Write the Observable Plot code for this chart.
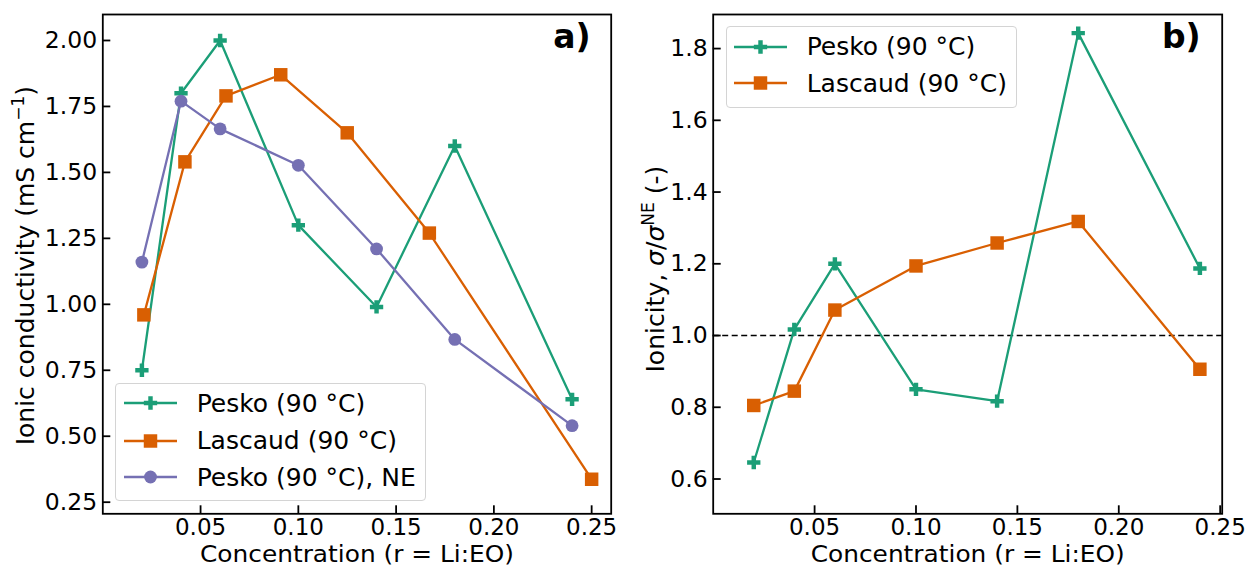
<!DOCTYPE html>
<html><head><meta charset="utf-8">
<script src="https://cdn.jsdelivr.net/npm/d3@7"></script>
<script src="https://cdn.jsdelivr.net/npm/@observablehq/plot@0.6"></script>
<style>
body{margin:0;background:#fff;font-family:"DejaVu Sans",sans-serif;}
#wrap{position:relative;width:1249px;height:567px;overflow:hidden;background:#fff}
.panel{position:absolute;top:0}
.legend{position:absolute;background:rgba(255,255,255,0.8);border:1px solid #d4d4d4;border-radius:4px;box-sizing:border-box}
.row{position:absolute;display:flex;align-items:center;height:34px;font-size:25px;color:#000;white-space:nowrap;font-family:"DejaVu Sans",sans-serif}
.row svg{display:block}
</style></head><body>
<div id="wrap"></div>
<script>
// ---------- data ----------
const peskoConc = [0.02, 0.04, 0.06, 0.10, 0.14, 0.18, 0.24];
const peskoSigma = [0.75, 1.80, 2.00, 1.30, 0.99, 1.60, 0.64];
const lascaudConc = [0.021, 0.042, 0.063, 0.091, 0.125, 0.167, 0.25];
const lascaudSigma = [0.96, 1.54, 1.79, 1.87, 1.65, 1.27, 0.337];
const peskoNEConc = [0.02, 0.04, 0.06, 0.10, 0.14, 0.18, 0.24];
const peskoNESigma = [1.16, 1.77, 1.665, 1.527, 1.21, 0.867, 0.54];
const ionicityConc = [0.02, 0.04, 0.06, 0.10, 0.14, 0.18, 0.24];
const peskoIonicity = [0.646, 1.017, 1.200, 0.850, 0.817, 1.843, 1.187];
const lascaudIonicity = [0.805, 0.845, 1.071, 1.194, 1.258, 1.318, 0.906];
const seriesNames = ["Pesko (90 °C)", "Lascaud (90 °C)", "Pesko (90 °C), NE"];
const seriesColors = ["#1b9e77", "#d95f02", "#7570b3"];
const seriesSymbols = ["cross", "square", "circle"];
const seriesR = [5.6, 7.6, 6.4];
const xTicks = [0.05, 0.10, 0.15, 0.20, 0.25];
const yTicksA = [0.25, 0.50, 0.75, 1.00, 1.25, 1.50, 1.75, 2.00];
const yTicksB = [0.6, 0.8, 1.0, 1.2, 1.4, 1.6, 1.8];
const referenceLevel = [1.0];
const xLabel = "Concentration (r = Li:EO)";

const tableA = [
  ...peskoConc.map((x, i) => ({x, y: peskoSigma[i], s: 0})),
  ...lascaudConc.map((x, i) => ({x, y: lascaudSigma[i], s: 1})),
  ...peskoNEConc.map((x, i) => ({x, y: peskoNESigma[i], s: 2}))
];
const tableB = [
  ...ionicityConc.map((x, i) => ({x, y: peskoIonicity[i], s: 0})),
  ...ionicityConc.map((x, i) => ({x, y: lascaudIonicity[i], s: 1}))
];

function seriesMarks(table, count) {
  const marks = [];
  for (let s = 0; s < count; s++) {
    const d = table.filter(r => r.s === s);
    marks.push(Plot.line(d, {x: "x", y: "y", stroke: seriesColors[s], strokeWidth: 2.3}));
    marks.push(Plot.dot(d, {x: "x", y: "y", fill: seriesColors[s], symbol: () => seriesSymbols[s], r: seriesR[s], stroke: "none"}));
  }
  return marks;
}

function axes(yTicks, yFmt) {
  return [
    Plot.axisX({ticks: xTicks, tickFormat: d3.format(".2f"), tickSize: -8, tickPadding: 13.2, strokeWidth: 1.8, fontSize: 23, label: null}),
    Plot.axisY({ticks: yTicks, tickFormat: d3.format(yFmt), tickSize: -8, tickPadding: 13.6, strokeWidth: 1.8, fontSize: 23.5, label: null})
  ];
}

const common = {height: 567, marginTop: 14, marginBottom: 53.7,
  style: {fontFamily: "DejaVu Sans", fontSize: "23px", color: "#000", background: "transparent", overflow: "visible"}};

const plotA = Plot.plot({
  ...common, width: 624, marginLeft: 102.3, marginRight: 13.3,
  x: {domain: [0, 0.26]}, y: {domain: [0.206, 2.0985]},
  marks: [
    ...axes(yTicksA, ".2f"),
    ...seriesMarks(tableA, 3),
    Plot.frame({stroke: "#000", strokeWidth: 1.8}),
    Plot.text([xLabel], {text: d => d, frameAnchor: "bottom", dy: 48.3, lineAnchor: "bottom", fontSize: 23}),
    Plot.text(["YLABEL_A"], {text: d => d, frameAnchor: "left", rotate: -90, dx: -69.3, dy: 1.5, lineAnchor: "bottom", textAnchor: "middle", fontSize: 25}),
    Plot.text(["a)"], {text: d => d, frameAnchor: "top-right", dx: -20.5, dy: 33.5, lineAnchor: "bottom", textAnchor: "end", fontSize: 33, fontWeight: "bold"})
  ]
});

const plotB = Plot.plot({
  ...common, width: 625, marginLeft: 88.7, marginRight: 27.3,
  x: {domain: [0, 0.251]}, y: {domain: [0.503, 1.895]},
  marks: [
    ...axes(yTicksB, ".1f"),
    Plot.ruleY(referenceLevel, {stroke: "#000", strokeWidth: 1.5, strokeDasharray: "6,3.5"}),
    ...seriesMarks(tableB, 2),
    Plot.frame({stroke: "#000", strokeWidth: 1.8}),
    Plot.text([xLabel], {text: d => d, frameAnchor: "bottom", dy: 48.3, lineAnchor: "bottom", fontSize: 23}),
    Plot.text(["YLABEL_B"], {text: d => d, frameAnchor: "left", rotate: -90, dx: -49.7, dy: 5, lineAnchor: "bottom", textAnchor: "middle", fontSize: 25}),
    Plot.text(["b)"], {text: d => d, frameAnchor: "top-right", dx: -21.5, dy: 33.5, lineAnchor: "bottom", textAnchor: "end", fontSize: 33, fontWeight: "bold"})
  ]
});

const NS = "http://www.w3.org/2000/svg";
function richLabel(svg, key, parts) {
  svg.querySelectorAll("text").forEach(t => {
    if (t.textContent === key) {
      t.textContent = "";
      for (const p of parts) {
        const ts = document.createElementNS(NS, "tspan");
        ts.textContent = p.t;
        if (p.italic) ts.setAttribute("font-style", "italic");
        if (p.size) ts.setAttribute("font-size", p.size);
        if (p.dy) ts.setAttribute("dy", p.dy);
        t.appendChild(ts);
      }
    }
  });
}
function widen(svg, key, len) {
  svg.querySelectorAll("text").forEach(t => {
    if (t.textContent === key) { t.setAttribute("textLength", len); t.setAttribute("lengthAdjust", "spacingAndGlyphs"); }
  });
}
richLabel(plotA, "YLABEL_A", [
  {t: "Ionic conductivity (mS cm"},
  {t: "−1", size: 17, dy: -10},
  {t: ")", dy: 10}
]);
richLabel(plotB, "YLABEL_B", [
  {t: "Ionicity, "},
  {t: "σ", italic: true},
  {t: "/"},
  {t: "σ", italic: true},
  {t: "NE", size: 17, dy: -10},
  {t: " (-)", dy: 10}
]);
widen(plotA, xLabel, 314);
widen(plotB, xLabel, 314);

const wrap = document.getElementById("wrap");
const pa = document.createElement("div"); pa.className = "panel"; pa.style.left = "0px"; pa.style.width = "624px"; pa.appendChild(plotA); wrap.appendChild(pa);
const pb = document.createElement("div"); pb.className = "panel"; pb.style.left = "624px"; pb.style.width = "625px"; pb.appendChild(plotB); wrap.appendChild(pb);

function legend(box, rows) {
  const b = document.createElement("div");
  b.className = "legend";
  Object.assign(b.style, {left: box.left + "px", top: box.top + "px", width: box.width + "px", height: box.height + "px"});
  wrap.appendChild(b);
  rows.forEach(r => {
    const s = r.series;
    const row = document.createElement("div");
    row.className = "row";
    row.style.left = box.lineX + "px";
    row.style.top = (r.cy - 17) + "px";
    const sw = d3.create("svg").attr("width", 53).attr("height", 24);
    sw.append("line").attr("x1", 0).attr("x2", 53).attr("y1", 12).attr("y2", 12).attr("stroke", seriesColors[s]).attr("stroke-width", 2.3);
    const sym = {cross: d3.symbolCross, square: d3.symbolSquare, circle: d3.symbolCircle}[seriesSymbols[s]];
    sw.append("path").attr("transform", "translate(26.5,12)").attr("d", d3.symbol(sym, seriesR[s] * seriesR[s] * Math.PI)()).attr("fill", seriesColors[s]);
    row.appendChild(sw.node());
    const txt = document.createElement("span");
    txt.textContent = seriesNames[s];
    txt.style.marginLeft = (box.textX - box.lineX - 53) + "px";
    row.appendChild(txt);
    wrap.appendChild(row);
  });
}
legend({left: 115, top: 383, width: 311, height: 118, lineX: 124, textX: 196.7},
  [{series: 0, cy: 403.3}, {series: 1, cy: 440.5}, {series: 2, cy: 477.3}]);
legend({left: 726, top: 26, width: 291, height: 82, lineX: 734, textX: 806.7},
  [{series: 0, cy: 46.7}, {series: 1, cy: 83.3}]);
</script>
</body></html>
